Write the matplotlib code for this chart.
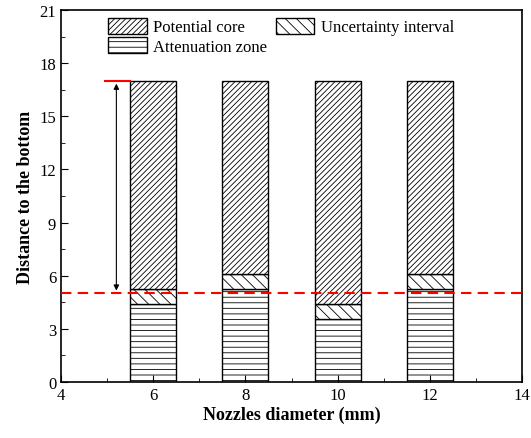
import numpy as np
import matplotlib.pyplot as plt
from matplotlib.ticker import MultipleLocator

# data
diam = [6, 8, 10, 12]
atten_top = [4.4, 5.25, 3.55, 5.25]      # attenuation zone 0 -> here
uncert_top = [5.25, 6.1, 4.4, 6.1]      # uncertainty interval up to here
core_top = [17, 17, 17, 17]              # potential core up to here
ref_line = 5.0
arrow_x = 5.2

plt.rcParams['font.family'] = ['Liberation Serif', 'DejaVu Serif']
plt.rcParams['hatch.linewidth'] = 0.6
plt.rcParams['hatch.color'] = '#333333'

fig = plt.figure(figsize=(5.31, 4.39), dpi=100)
ax = fig.add_axes([0.115, 0.1276, 0.868, 0.8474])

diam = np.array(diam)
atten_top = np.array(atten_top)
uncert_top = np.array(uncert_top)
core_top = np.array(core_top)

w = 1.0
b1 = ax.bar(diam, atten_top, w, color='white', edgecolor='black', hatch='---', lw=1.0)
b2 = ax.bar(diam, uncert_top - atten_top, w, bottom=atten_top, color='white', edgecolor='black',
            hatch='\\\\\\', lw=1.0)
b3 = ax.bar(diam, core_top - uncert_top, w, bottom=uncert_top, color='white', edgecolor='black',
            hatch='//////', lw=1.0)

ax.axhline(ref_line, color='red', ls=(0, (5, 3)), lw=1.5, zorder=5)
ax.plot([4.95, 5.5], [17, 17], color='red', lw=1.5, zorder=5)
ax.annotate('', xy=(arrow_x, ref_line), xytext=(arrow_x, 17),
            arrowprops=dict(arrowstyle='<|-|>', color='black', lw=0.8, mutation_scale=8))

ax.set_xlim(4, 14)
ax.set_ylim(0, 21)
ax.xaxis.set_major_locator(MultipleLocator(2))
ax.xaxis.set_minor_locator(MultipleLocator(1))
ax.yaxis.set_major_locator(MultipleLocator(3))
ax.yaxis.set_minor_locator(MultipleLocator(1.5))
ax.tick_params(which='both', direction='in', labelsize=12)
ax.tick_params(which='major', length=5)
ax.tick_params(which='minor', length=3)
for s in ax.spines.values():
    s.set_linewidth(1.2)

ax.set_xlabel('Nozzles diameter (mm)', fontsize=13, fontweight='bold', labelpad=2)
ax.set_ylabel('Distance to the bottom', fontsize=13, fontweight='bold')

# column-major fill: col1 = core, attenuation ; col2 = uncertainty
ax.legend([b3, b1, b2], ['Potential core', 'Attenuation zone', 'Uncertainty interval'],
          ncol=2, frameon=False, fontsize=12, loc='upper left', bbox_to_anchor=(0.07, 1.02),
          handlelength=2.3, handleheight=1.1, columnspacing=0.5, handletextpad=0.4,
          labelspacing=0.1)

fig.savefig('out.png', dpi=100)
